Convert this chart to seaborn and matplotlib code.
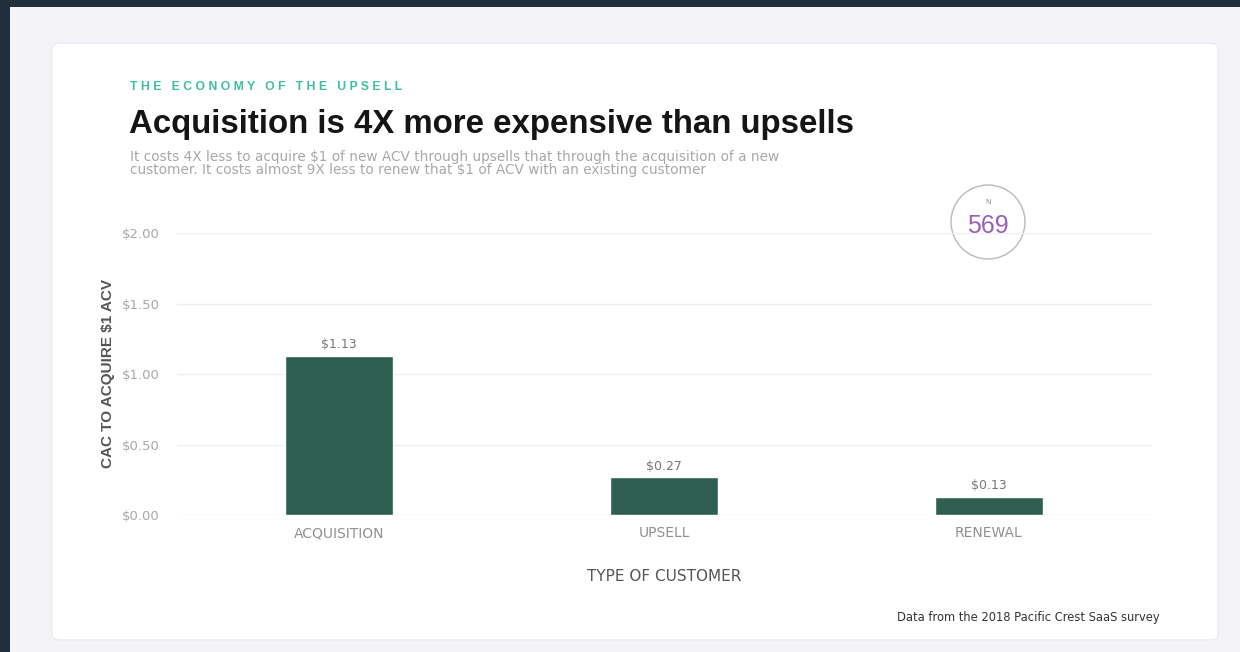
import matplotlib
matplotlib.use("Agg")
import matplotlib.pyplot as plt
from matplotlib.patches import FancyBboxPatch, Rectangle, Ellipse
import seaborn as sns
import pandas as pd

categories = ["ACQUISITION", "UPSELL", "RENEWAL"]
values = [1.13, 0.27, 0.13]
value_labels = ["$1.13", "$0.27", "$0.13"]
yticks = [0.0, 0.5, 1.0, 1.5, 2.0]
ytick_labels = ["$0.00", "$0.50", "$1.00", "$1.50", "$2.00"]
n_value = "569"

sns.set_theme(style="white")
plt.rcParams['font.family'] = ['Liberation Sans', 'DejaVu Sans']

W, H = 1240, 652
fig = plt.figure(figsize=(W / 100, H / 100), dpi=100)
fig.patch.set_facecolor("#1f2f3b")

def fx(x): return x / W
def fy(y): return 1 - y / H

# lavender panel
fig.patches.append(Rectangle((fx(10), 0), 1 - fx(10), fy(7), transform=fig.transFigure,
                             facecolor="#f4f3f8", edgecolor="none", zorder=0))
# white card
fig.patches.append(FancyBboxPatch((fx(52), fy(640)), fx(1218) - fx(52), fy(43) - fy(640),
                                  boxstyle="round,pad=0,rounding_size=0.008",
                                  transform=fig.transFigure, facecolor="white",
                                  edgecolor="#ecebf0", linewidth=1, zorder=0.5))

ax = fig.add_axes([fx(176.5), fy(515), fx(1151.5) - fx(176.5), fy(233) - fy(515)])
ax.set_zorder(5)
ax.set_facecolor("none")
df = pd.DataFrame({"type": categories, "cac": values})
sns.barplot(data=df, x="type", y="cac", order=categories, color="#2e5f50",
            saturation=1, width=0.33, ax=ax, zorder=3)
ax.set_ylim(0, 2.0)
ax.set_xlim(-0.5, 2.5)
ax.set_yticks(yticks)
ax.set_yticklabels(ytick_labels)
for t in yticks:
    ax.axhline(t, color="#efefef", linewidth=1, zorder=1)
for s in ax.spines.values():
    s.set_visible(False)
ax.tick_params(axis="y", length=0, pad=12, labelsize=9.5, labelcolor="#a8a8a8")
ax.tick_params(axis="x", length=0, pad=8, labelsize=10, labelcolor="#909090")
for lab in ax.get_yticklabels() + ax.get_xticklabels():
    lab.set_fontfamily("DejaVu Sans")
ax.set_xlabel("TYPE OF CUSTOMER", fontsize=11, color="#555555", labelpad=21,
              fontfamily="DejaVu Sans")
ax.set_ylabel("CAC TO ACQUIRE $1 ACV", fontsize=11, color="#555555", labelpad=5,
              fontweight="bold")
for i, (v, lab) in enumerate(zip(values, value_labels)):
    ax.text(i, v + 0.03, lab, ha="center", va="bottom", fontsize=9, color="#777777",
            fontfamily="DejaVu Sans")

# header texts
fig.text(fx(130), fy(87), "T H E   E C O N O M Y   O F   T H E   U P S E L L", fontsize=8.8,
         fontweight="bold", color="#3dbfa6", va="center", ha="left")
fig.text(fx(129), fy(125), "Acquisition is 4X more expensive than upsells", fontsize=23.8,
         fontweight="bold", color="#151515", va="center", ha="left")
fig.text(fx(130), fy(157), "It costs 4X less to acquire $1 of new ACV through upsells that through the acquisition of a new",
         fontsize=9.8, color="#a8a8a8", va="center", ha="left", fontfamily="DejaVu Sans")
fig.text(fx(130), fy(170), "customer. It costs almost 9X less to renew that $1 of ACV with an existing customer",
         fontsize=9.8, color="#a8a8a8", va="center", ha="left", fontfamily="DejaVu Sans")

# N circle
fig.patches.append(Ellipse((fx(988), fy(222)), 74 / W, 74 / H, transform=fig.transFigure,
                           facecolor="white", edgecolor="#b9b9b9", linewidth=1, zorder=2))
fig.text(fx(988), fy(202), "N", fontsize=5.5, color="#888888", ha="center", va="center", zorder=3)
fig.text(fx(988), fy(226), n_value, fontsize=18, color="#9b5fb5", ha="center", va="center", zorder=3)

fig.text(fx(1160), fy(617), "Data from the 2018 Pacific Crest SaaS survey", fontsize=8.3,
         color="#333333", ha="right", va="center", fontfamily="DejaVu Sans")

fig.savefig("out.png", dpi=100, facecolor=fig.get_facecolor())
